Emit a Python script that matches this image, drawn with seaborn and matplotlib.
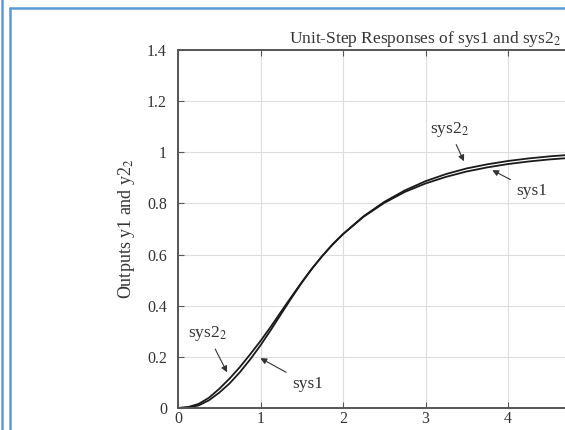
import matplotlib
matplotlib.use("Agg")
import matplotlib.pyplot as plt
import seaborn as sns
import pandas as pd
from matplotlib.lines import Line2D

# values
time = [0, 0.125, 0.25, 0.375, 0.5, 0.625, 0.75, 0.875, 1.0, 1.125, 1.25, 1.375,
        1.5, 1.625, 1.75, 1.875, 2.0, 2.25, 2.5, 2.75, 3.0, 3.25, 3.5, 3.75,
        4.0, 4.25, 4.5, 4.75, 5.0, 5.5, 6.0]
sys1 = [0, 0.002, 0.01, 0.03, 0.06, 0.096, 0.14, 0.19, 0.245, 0.305, 0.368, 0.43,
        0.49, 0.545, 0.595, 0.64, 0.68, 0.748, 0.802, 0.845, 0.878, 0.904,
        0.925, 0.941, 0.954, 0.964, 0.972, 0.978, 0.983, 0.99, 0.994]
sys2_2 = [0, 0.004, 0.016, 0.04, 0.075, 0.115, 0.16, 0.21, 0.262, 0.318, 0.377,
          0.435, 0.492, 0.546, 0.595, 0.64, 0.68, 0.75, 0.806, 0.851, 0.887,
          0.915, 0.937, 0.953, 0.966, 0.976, 0.984, 0.99, 0.994, 0.998, 1.0]
y_ticks = [0, 0.2, 0.4, 0.6, 0.8, 1.0, 1.2, 1.4]
y_tick_labels = ["0", "0.2", "0.4", "0.6", "0.8", "1", "1.2", "1.4"]
x_ticks = [0, 1, 2, 3, 4, 5, 6]

df = pd.DataFrame({
    "t": time * 2,
    "y": sys1 + sys2_2,
    "system": ["sys1"] * len(time) + ["sys2_2"] * len(time),
})

sns.set_theme(style="white")
plt.rcParams["font.family"] = ["Liberation Serif", "DejaVu Serif"]
plt.rcParams["mathtext.fontset"] = "stix"

TXT = "#333333"

fig = plt.figure(figsize=(5.65, 4.3), dpi=100)
ax = fig.add_axes([178 / 565, 22 / 430, 495 / 565, 358 / 430])

sns.lineplot(data=df, x="t", y="y", hue="system",
             palette={"sys1": "#1a1a1a", "sys2_2": "#1a1a1a"},
             estimator=None, sort=False, legend=False, linewidth=1.3, ax=ax)

ax.set_xlim(0, 6)
ax.set_ylim(0, 1.4)
ax.set_xticks(x_ticks)
ax.set_xticklabels([str(v) for v in x_ticks])
ax.set_yticks(y_ticks)
ax.set_yticklabels(y_tick_labels)
ax.grid(True, color="#dddddd", linewidth=0.8)
ax.tick_params(direction="in", length=4, width=0.8, colors="#555555",
               labelcolor=TXT, labelsize=11.5, top=True, right=True,
               bottom=True, left=True)
ax.tick_params(axis="x", pad=2)
ax.tick_params(axis="y", pad=8)
# tick labels past the cropped right edge are not shown
for lbl in ax.get_xticklabels()[5:]:
    lbl.set_visible(False)
for s in ax.spines.values():
    s.set_color("#555555")
    s.set_linewidth(1.4)

ax.set_title("Unit-Step Responses of sys1 and sys2$_2$", fontsize=12.5,
             color=TXT, pad=5)
ax.set_ylabel("Outputs y1 and y2$_2$", fontsize=13, color=TXT, labelpad=7)
ax.set_xlabel("Time (sec)", fontsize=12, color=TXT, labelpad=3)

arrow = dict(arrowstyle="-|>", color="#333333", lw=0.8, mutation_scale=9)
ax.annotate("sys2$_2$", xy=(0.61, 0.13), xytext=(0.12, 0.29), fontsize=12.5,
            color=TXT, arrowprops=arrow, va="center")
ax.annotate("sys1", xy=(0.97, 0.2), xytext=(1.38, 0.094), fontsize=12.5,
            color=TXT, arrowprops=arrow, va="center")
ax.annotate("sys2$_2$", xy=(3.48, 0.955), xytext=(3.05, 1.09), fontsize=12.5,
            color=TXT, arrowprops=arrow, va="center")
ax.annotate("sys1", xy=(3.78, 0.935), xytext=(4.1, 0.85), fontsize=12.5,
            color=TXT, arrowprops=arrow, va="center")

# blue frame of the surrounding page
blue = "#5b9bd5"
H, W = 430.0, 565.0
fig.add_artist(Line2D([1.5 / W, 1.5 / W], [0, 1], color=blue, lw=1.8,
                      transform=fig.transFigure))
fig.add_artist(Line2D([10 / W, 10 / W], [0, 1 - 8 / H], color=blue, lw=1.8,
                      transform=fig.transFigure))
fig.add_artist(Line2D([10 / W, 1], [1 - 8 / H, 1 - 8 / H], color=blue, lw=1.8,
                      transform=fig.transFigure))

fig.savefig("out.png", dpi=100)
